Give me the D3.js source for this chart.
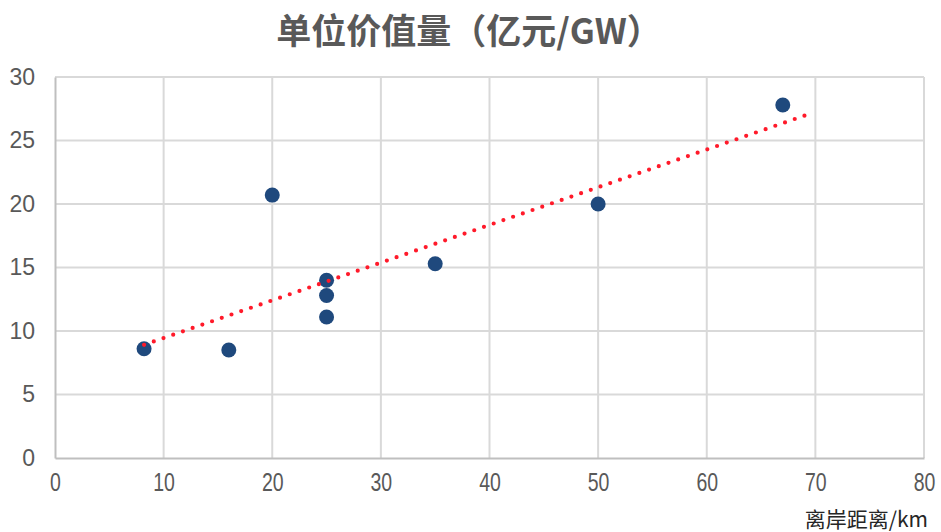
<!DOCTYPE html>
<html>
<head>
<meta charset="utf-8">
<script src="https://cdn.jsdelivr.net/npm/d3@7"></script>
<style>
  html, body { margin: 0; padding: 0; background: #fff; }
  svg { display: block; }
</style>
</head>
<body>
<svg id="chart" width="941" height="532"></svg>
<script>
// Distance from shore (km) and unit value (100M CNY / GW)
const distances = [8.2, 16, 20, 25, 25, 25, 35, 50, 67];
const unitValues = [8.6, 8.5, 20.7, 14.0, 12.8, 11.1, 15.3, 20.0, 27.8];
const xTicks = [0, 10, 20, 30, 40, 50, 60, 70, 80];
const yTicks = [0, 5, 10, 15, 20, 25, 30];
const titleText = "单位价值量（亿元/GW）";
const xAxisTitle = "离岸距离/km";
const trendForward = 2; // trendline extended forward by this many km

const svg = d3.select("#chart");
const margin = { left: 55, right: 17, top: 77, bottom: 74 };
const W = 941, H = 532;

const x = d3.scaleLinear().domain([0, 80]).range([margin.left, W - margin.right]);
const y = d3.scaleLinear().domain([0, 30]).range([H - margin.bottom, margin.top]);

const grid = "#d9d9d9";
const textColor = "#595959";

// Gridlines
svg.append("g").selectAll("line").data(yTicks.filter(d => d > 0)).join("line")
  .attr("x1", x(0)).attr("x2", x(80))
  .attr("y1", d => y(d)).attr("y2", d => y(d))
  .attr("stroke", grid).attr("stroke-width", 2);
svg.append("g").selectAll("line").data(xTicks.filter(d => d > 0)).join("line")
  .attr("x1", d => x(d)).attr("x2", d => x(d))
  .attr("y1", y(0)).attr("y2", y(30))
  .attr("stroke", grid).attr("stroke-width", 2);

// Axes
const xAxis = svg.append("g").attr("transform", `translate(0,${y(0)})`)
  .call(d3.axisBottom(x).tickValues(xTicks).tickSize(0).tickPadding(15));
xAxis.select(".domain").attr("stroke", "#bfbfbf").attr("stroke-width", 2);
// condensed tick labels
xAxis.selectAll(".tick text")
  .attr("fill", textColor)
  .attr("x", 0)
  .attr("transform", "scale(0.78,1)")
  .style("font-family", "'Liberation Sans', Arial, sans-serif")
  .style("font-size", "25px");

const yAxis = svg.append("g").attr("transform", `translate(${x(0)},0)`)
  .call(d3.axisLeft(y).tickValues(yTicks).tickSize(0).tickPadding(20));
yAxis.select(".domain").attr("stroke", "#bfbfbf").attr("stroke-width", 2);
yAxis.selectAll("text")
  .attr("fill", textColor)
  .style("font-family", "'Liberation Sans', Arial, sans-serif")
  .style("font-size", "23px");

// Linear least-squares trendline
const n = distances.length;
const mx = d3.mean(distances), my = d3.mean(unitValues);
let sxy = 0, sxx = 0;
for (let i = 0; i < n; i++) {
  sxy += (distances[i] - mx) * (unitValues[i] - my);
  sxx += (distances[i] - mx) ** 2;
}
const slope = sxy / sxx, intercept = my - slope * mx;
const tx0 = d3.min(distances), tx1 = d3.max(distances) + trendForward;

// Points
svg.append("g").selectAll("circle").data(distances.map((d, i) => [d, unitValues[i]])).join("circle")
  .attr("cx", d => x(d[0])).attr("cy", d => y(d[1]))
  .attr("r", 7.5).attr("fill", "#1f497d");

// Dotted trendline: spacing chosen so a dot lands on both ends
const px0 = x(tx0), py0 = y(intercept + slope * tx0);
const px1 = x(tx1), py1 = y(intercept + slope * tx1);
const len = Math.hypot(px1 - px0, py1 - py0);
const gap = len / Math.round(len / 10.35);
svg.append("line")
  .attr("x1", px0).attr("y1", py0)
  .attr("x2", px1).attr("y2", py1)
  .attr("stroke", "#ff1a2a").attr("stroke-width", 4.2)
  .attr("stroke-linecap", "round").attr("stroke-dasharray", `0 ${gap - 0.001}`);

// Title
svg.append("text")
  .attr("x", 469).attr("y", 44).attr("text-anchor", "middle")
  .attr("fill", textColor)
  .style("font-family", "'Noto Sans CJK SC', sans-serif")
  .style("font-weight", "bold").style("font-size", "35px")
  .text(titleText);

// X axis title
svg.append("text")
  .attr("x", 928).attr("y", 527).attr("text-anchor", "end")
  .attr("fill", "#262626")
  .style("font-family", "'Noto Sans CJK SC', 'Liberation Serif', serif")
  .style("font-size", "21px")
  .text(xAxisTitle);
</script>
</body>
</html>
